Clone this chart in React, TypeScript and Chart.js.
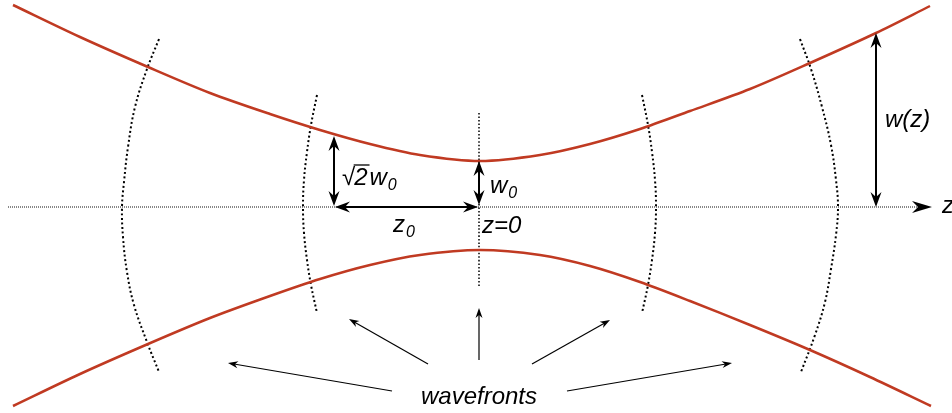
import React, { useEffect, useRef } from "react";
import { Chart, registerables } from "chart.js";

Chart.register(...registerables);

// Beam edges: [z, w] (z = 0 at the waist, w = 0 on the optical axis)
const upperEdge: number[][] = [
  [-467, 202], [-400, 170], [-332, 140], [-270, 114], [-210, 93], [-160, 77],
  [-110, 63], [-60, 52], [0, 46], [60, 52], [110, 63], [160, 78], [210, 96],
  [270, 118], [330, 144], [396, 174], [450, 201],
];
const lowerEdge: number[][] = [
  [-467, -199], [-400, -167], [-332, -137], [-270, -111], [-210, -89], [-160, -72],
  [-110, -58], [-60, -48], [0, -43], [60, -48], [110, -59], [160, -75], [210, -94],
  [270, -118], [330, -143], [390, -170], [451, -199],
];

// Wavefronts (dotted)
const wavefront1: number[][] = [
  [-321, 168], [-333, 138], [-345, 100], [-352, 60], [-356, 25], [-358, 0],
  [-357, -30], [-353, -65], [-346, -98], [-333, -135], [-321, -165],
];
const wavefront2: number[][] = [
  [-163, 112], [-169, 82], [-173, 55], [-176, 27], [-177, 0], [-176, -26],
  [-173, -53], [-169, -78], [-163, -106],
];
const wavefront3: number[][] = [[-1, 94], [-1, -81]];
const wavefront4: number[][] = [
  [162, 112], [168, 82], [172, 55], [175, 27], [176, 0], [175, -26],
  [172, -53], [168, -78], [162, -106],
];
const wavefront5: number[][] = [
  [320, 168], [331, 138], [342, 100], [351, 62], [356, 27], [358, 0],
  [356, -28], [351, -62], [345, -95], [335, -128], [321, -165],
];

// Optical axis
const axisLine: number[][] = [[-472, 0], [440, 0]];
const axisTip: number[] = [452, 0];

// Double-headed dimension arrows
const dimFrom: number[][] = [[396, 174], [-146, 71], [-145, 0], [-1, 46]];
const dimTo: number[][] = [[396, 0], [-146, 1], [-2, 0], [-1, 2]];

// Thin pointer arrows from the "wavefronts" caption
const pointerFrom: number[][] = [[-88, -184], [-52, -157], [-1, -153], [52, -157], [87, -184]];
const pointerTo: number[][] = [[-252, -156], [-131, -112], [-1, -101], [130, -113], [252, -156]];

// Labels
const labelMain = ["w(z)", "w", "z", "z=0", "wavefronts", "z"];
const labelSub = ["", "0", "0", "", "", ""];
const labelPos: number[][] = [[405, 80], [10, 14], [-87, -25], [2, -26], [-1, -197], [462, -6]];
const labelAlign = ["left", "left", "left", "left", "center", "left"];
const rootLabelPos: number[] = [-138, 22]; // √2w0

const RED = "#c03a22";
const FONT = '"Liberation Sans", Arial, sans-serif';

function toXY(o: number[][]) {
  return o.map(([x, y]) => ({ x, y }));
}

function head(ctx: CanvasRenderingContext2D, tx: number, ty: number, ang: number, len: number, half: number, notch: number) {
  const dx = Math.cos(ang), dy = Math.sin(ang);
  const px = -dy, py = dx;
  ctx.beginPath();
  ctx.moveTo(tx, ty);
  ctx.lineTo(tx - len * dx + half * px, ty - len * dy + half * py);
  ctx.lineTo(tx - (len - notch) * dx, ty - (len - notch) * dy);
  ctx.lineTo(tx - len * dx - half * px, ty - len * dy - half * py);
  ctx.closePath();
  ctx.fill();
}

const overlay = {
  id: "overlay",
  afterDatasetsDraw(chart: any) {
    const ctx: CanvasRenderingContext2D = chart.ctx;
    const xs = chart.scales.x, ys = chart.scales.y;
    const P = (p: number[]) => [xs.getPixelForValue(p[0]), ys.getPixelForValue(p[1])];
    ctx.save();
    ctx.fillStyle = "#000";
    ctx.strokeStyle = "#000";

    // axis arrowhead
    const a0 = P(axisLine[1]);
    const at = P(axisTip);
    head(ctx, at[0], at[1], Math.atan2(at[1] - a0[1], at[0] - a0[0]), 20, 6, 6);

    // dimension arrows
    const L = 15, H = 5.5, N = 5;
    ctx.lineWidth = 2;
    for (let i = 0; i < dimFrom.length; i++) {
      const [x1, y1] = P(dimFrom[i]);
      const [x2, y2] = P(dimTo[i]);
      const ang = Math.atan2(y2 - y1, x2 - x1);
      const c = Math.cos(ang), s = Math.sin(ang);
      ctx.beginPath();
      ctx.moveTo(x1 + (L - N) * c, y1 + (L - N) * s);
      ctx.lineTo(x2 - (L - N) * c, y2 - (L - N) * s);
      ctx.stroke();
      head(ctx, x2, y2, ang, L, H, N);
      head(ctx, x1, y1, ang + Math.PI, L, H, N);
    }

    // thin pointer arrows
    ctx.lineWidth = 1.2;
    for (let i = 0; i < pointerFrom.length; i++) {
      const [x1, y1] = P(pointerFrom[i]);
      const [x2, y2] = P(pointerTo[i]);
      const ang = Math.atan2(y2 - y1, x2 - x1);
      const c = Math.cos(ang), s = Math.sin(ang);
      ctx.beginPath();
      ctx.moveTo(x1, y1);
      ctx.lineTo(x2 - 6 * c, y2 - 6 * s);
      ctx.stroke();
      head(ctx, x2, y2, ang, 10, 3.5, 3);
    }

    // labels
    ctx.textBaseline = "alphabetic";
    for (let i = 0; i < labelMain.length; i++) {
      const [x, y] = P(labelPos[i]);
      ctx.font = `italic 24px ${FONT}`;
      const w = ctx.measureText(labelMain[i]).width;
      const sx = labelAlign[i] === "center" ? x - w / 2 : x;
      ctx.textAlign = "left";
      ctx.fillText(labelMain[i], sx, y);
      if (labelSub[i]) {
        ctx.font = `italic 16px ${FONT}`;
        ctx.fillText(labelSub[i], sx + w + 1, y + 5);
      }
    }

    // √2w0
    {
      const [x, y] = P(rootLabelPos);
      ctx.textAlign = "left";
      ctx.font = `24px ${FONT}`;
      ctx.fillText("\u221A", x, y);
      const rw = ctx.measureText("\u221A").width;
      ctx.font = `italic 24px ${FONT}`;
      const tw = ctx.measureText("2").width;
      ctx.fillText("2", x + rw - 1, y);
      ctx.lineWidth = 1.3;
      ctx.beginPath();
      ctx.moveTo(x + rw - 1.5, y - 20);
      ctx.lineTo(x + rw + tw + 1, y - 20);
      ctx.stroke();
      ctx.fillText("w", x + rw + tw + 1, y);
      const ww = ctx.measureText("w").width;
      ctx.font = `italic 16px ${FONT}`;
      ctx.fillText("0", x + rw + tw + ww + 2, y + 5);
    }
    ctx.restore();
  },
};

export default function App() {
  const ref = useRef<HTMLCanvasElement | null>(null);
  useEffect(() => {
    document.body.style.margin = "0";
    if (!ref.current) return;
    const dotted = (d: number[][]) => ({
      data: toXY(d),
      showLine: true,
      borderColor: "#000",
      borderWidth: 2,
      borderDash: [2, 2.6],
      tension: 0.4,
      pointRadius: 0,
      fill: false,
      order: 2,
    });
    const red = (d: number[][]) => ({
      data: toXY(d),
      showLine: true,
      borderColor: RED,
      borderWidth: 2.5,
      tension: 0.3,
      pointRadius: 0,
      fill: false,
      order: 1,
    });
    const chart = new Chart(ref.current, {
      type: "scatter",
      data: {
        datasets: [
          red(upperEdge),
          red(lowerEdge),
          dotted(wavefront1),
          dotted(wavefront2),
          { ...dotted(wavefront3), borderWidth: 1.5, borderDash: [1.5, 2] },
          dotted(wavefront4),
          dotted(wavefront5),
          { ...dotted(axisLine), borderWidth: 1, borderDash: [1, 1], borderColor: "#111", tension: 0 },
        ] as any,
      },
      options: {
        responsive: false,
        animation: false,
        layout: { padding: 0 },
        plugins: { legend: { display: false }, tooltip: { enabled: false } },
        scales: {
          x: { type: "linear", min: -480, max: 472, display: false },
          y: { type: "linear", min: -206, max: 207, display: false },
        },
      },
      plugins: [overlay],
    });
    return () => chart.destroy();
  }, []);
  return (
    <div style={{ position: "fixed", left: 0, top: 0, width: 952, height: 413, background: "#fff" }}>
      <canvas ref={ref} width={952} height={413} style={{ width: 952, height: 413 }} />
    </div>
  );
}
